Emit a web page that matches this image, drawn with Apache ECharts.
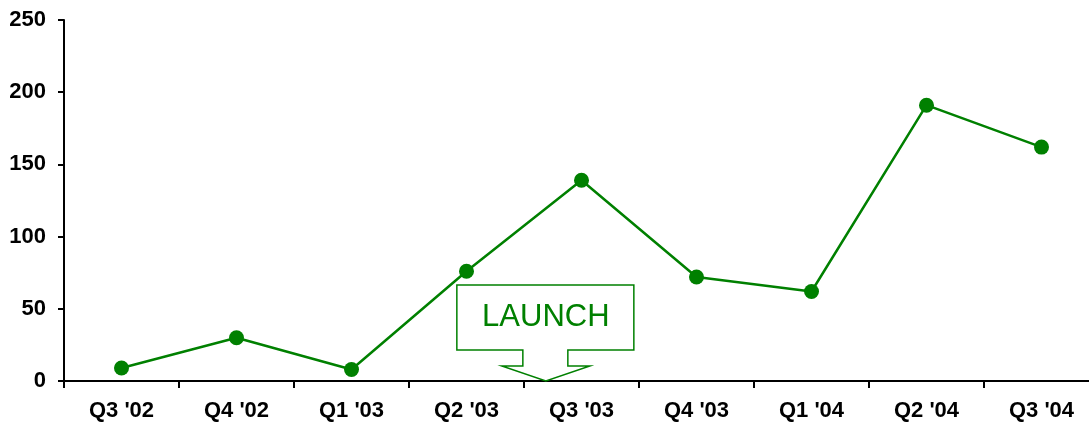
<!DOCTYPE html>
<html>
<head>
<meta charset="utf-8">
<script src="https://cdn.jsdelivr.net/npm/echarts@6/dist/echarts.min.js"></script>
<style>
  html, body { margin: 0; padding: 0; background: #fff; }
  #chart { width: 1089px; height: 427px; }
</style>
</head>
<body>
<div id="chart"></div>
<script>
// 季度
var quarters = ["Q3 '02", "Q4 '02", "Q1 '03", "Q2 '03", "Q3 '03", "Q4 '03", "Q1 '04", "Q2 '04", "Q3 '04"];
// 数值
var values = [9, 30, 8, 76, 139, 72, 62, 191, 162];
// y轴刻度
var yTicks = [0, 50, 100, 150, 200, 250];
// 标注：落在 Q2 '03 与 Q3 '03 之间
var launchFrom = "Q2 '03";
var launchTo = "Q3 '03";
var launchFrac = 0.69;
var launchText = 'LAUNCH';

var green = '#008000';
var labelFont = 'Liberation Sans, Arial, sans-serif';
var myChart = echarts.init(document.getElementById('chart'));

myChart.setOption({
  animation: false,
  grid: {
    left: 64,
    top: 20,
    bottom: 46,
    width: 1035,
    containLabel: false,
    outerBoundsMode: 'none'
  },
  xAxis: {
    type: 'category',
    data: quarters,
    boundaryGap: true,
    axisLine: { lineStyle: { color: '#000', width: 2 } },
    axisTick: { show: true, length: 7, lineStyle: { color: '#000', width: 2 } },
    axisLabel: {
      margin: 19,
      color: '#000',
      fontFamily: labelFont,
      fontWeight: 'bold',
      fontSize: 22
    },
    splitLine: { show: false }
  },
  yAxis: {
    type: 'value',
    min: yTicks[0],
    max: yTicks[yTicks.length - 1],
    interval: 50,
    axisLine: { show: true, lineStyle: { color: '#000', width: 2 } },
    axisTick: { show: true, length: 6, lineStyle: { color: '#000', width: 2 } },
    axisLabel: {
      margin: 18,
      color: '#000',
      fontFamily: labelFont,
      fontWeight: 'bold',
      fontSize: 22
    },
    splitLine: { show: false }
  },
  series: [{
    type: 'line',
    data: values,
    symbol: 'circle',
    symbolSize: 15,
    lineStyle: { color: green, width: 2.5 },
    itemStyle: { color: green },
    z: 3
  }]
});

// 标注框，位置从坐标轴换算
var p1 = myChart.convertToPixel({ gridIndex: 0 }, [launchFrom, 0]);
var p2 = myChart.convertToPixel({ gridIndex: 0 }, [launchTo, 0]);
var x = p1[0] + (p2[0] - p1[0]) * launchFrac;
var y = p1[1];
myChart.setOption({
  graphic: [
    {
      type: 'polygon',
      z: 10,
      shape: {
        points: [
          [x - 89, y - 96], [x + 88, y - 96], [x + 88, y - 31],
          [x + 22, y - 31], [x + 22, y - 15], [x + 44, y - 15],
          [x, y], [x - 44, y - 15], [x - 23, y - 15],
          [x - 23, y - 31], [x - 89, y - 31]
        ]
      },
      style: { fill: '#fff', stroke: green, lineWidth: 1.5 }
    },
    {
      type: 'text',
      z: 11,
      x: x,
      y: y - 64,
      style: {
        text: launchText,
        fill: green,
        font: '31px "Liberation Sans", Arial, sans-serif',
        align: 'center',
        verticalAlign: 'middle'
      }
    }
  ]
});
</script>
</body>
</html>
